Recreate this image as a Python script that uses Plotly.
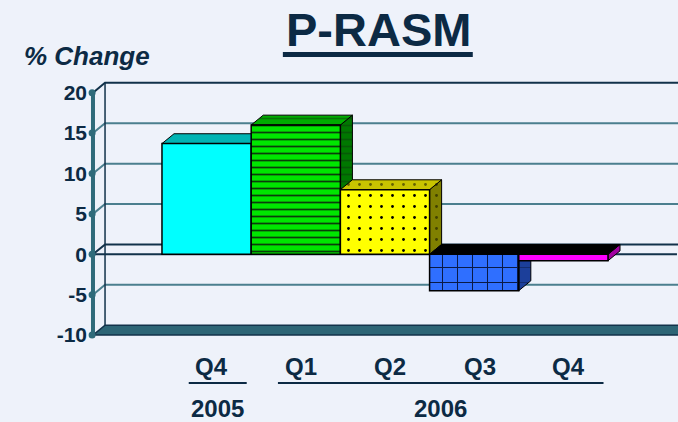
import plotly.graph_objects as go

# ---------------- data ----------------
years = ["2005", "2006", "2006", "2006", "2006"]
quarters = ["Q4", "Q1", "Q2", "Q3", "Q4"]
values = [13.7, 16.0, 8.0, -4.5, -0.8]
y_ticks = [-10, -5, 0, 5, 10, 15, 20]
title_text = "P-RASM"
y_title = "% Change"

# ---------------- style ----------------
BG = "#eef2fa"
TXT = "#0c2a44"
GRID = "#4b7f8e"
DARK = "#12324a"
AXIS = "#2f6b7a"
FLOOR = "#2d6575"
FONT = "Liberation Sans, Arial, sans-serif"

front_colors = ["#00ffff", "#00e600", "#ffff00", "#2f6fff", "#ff00ff"]
top_colors = ["#00b4b4", "#00ad00", "#c8c400", "#000000", "#000000"]
side_colors = ["#007f7f", "#007800", "#808000", "#1c3f9a", "#a000a0"]
pat_shape = ["", "-", ".", "+", ""]
pat_size = [8, 7, 11, 15, 8]
pat_solid = [0.3, 0.25, 0.05, 0.13, 0.3]
pat_fg = ["#000000", "#0b3d0b", "#000000", "#0a1a45", "#000000"]

DX, DY = 0.135, 1.22           # pseudo-3D depth offset (x units, y units)
X_LEFT, X_RIGHT = -1.2735, 5.2735
XR = [-1.307, 5.285]
YR = [-10.235, 21.57]

fig = go.Figure()


def poly(pts, fill, line_color="black", lw=1, pattern=None):
    xs = [p[0] for p in pts] + [pts[0][0]]
    ys = [p[1] for p in pts] + [pts[0][1]]
    kw = {}
    if pattern:
        kw["fillpattern"] = pattern
    fig.add_trace(go.Scatter(x=xs, y=ys, mode="lines", fill="toself", fillcolor=fill,
                             line=dict(color=line_color, width=lw), hoverinfo="skip", **kw))


def line(xs, ys, color, width):
    fig.add_trace(go.Scatter(x=xs, y=ys, mode="lines", line=dict(color=color, width=width),
                             hoverinfo="skip"))


# floor
fmin = y_ticks[0]
poly([(X_LEFT, fmin), (X_LEFT + DX, fmin + DY), (X_RIGHT + DX + 1, fmin + DY), (X_RIGHT + 1, fmin)],
     FLOOR, line_color=DARK, lw=1.5)

# back-wall gridlines with diagonal to the front axis
for v in y_ticks[1:]:
    c = DARK if v in (0, y_ticks[-1]) else GRID
    line([X_LEFT, X_LEFT + DX, X_RIGHT + DX + 1], [v, v + DY, v + DY], c, 2)

# back-wall left edge
line([X_LEFT + DX, X_LEFT + DX], [fmin + DY, y_ticks[-1] + DY], DARK, 1.5)

# front zero line
line([X_LEFT, X_RIGHT], [0, 0], DARK, 2)

# front value axis line + tick dots
line([X_LEFT, X_LEFT], [YR[0], y_ticks[-1] + 0.33], AXIS, 4)
fig.add_trace(go.Scatter(x=[X_LEFT - 0.01] * len(y_ticks), y=y_ticks, mode="markers",
                         marker=dict(color=AXIS, size=7), hoverinfo="skip", cliponaxis=False))

# 3D faces (top + side), painted left to right
for i, v in enumerate(values):
    x0, x1 = i - 0.5, i + 0.5
    if v >= 0:
        side = [(x1, 0), (x1 + DX, DY), (x1 + DX, v + DY), (x1, v)]
        top = [(x0, v), (x0 + DX, v + DY), (x1 + DX, v + DY), (x1, v)]
    else:
        side = [(x1, v), (x1 + DX, v + DY), (x1 + DX, DY), (x1, 0)]
        top = [(x0, 0), (x0 + DX, DY), (x1 + DX, DY), (x1, 0)]
    sp = tp = None
    if pat_shape[i]:
        base = dict(shape=pat_shape[i], size=pat_size[i], solidity=pat_solid[i], fgcolor=pat_fg[i])
        sp = dict(base, bgcolor=side_colors[i])
        if v >= 0:
            tp = dict(base, bgcolor=top_colors[i])
    poly(side, side_colors[i], pattern=sp)
    poly(top, top_colors[i], pattern=tp)

# front faces: real bars on an overlaid subplot (drawn on top of the faces)
for i, v in enumerate(values):
    mk = dict(color=front_colors[i], line=dict(color="black", width=1.5))
    if pat_shape[i]:
        mk["pattern"] = dict(shape=pat_shape[i], size=pat_size[i], solidity=pat_solid[i],
                             fgcolor=pat_fg[i], bgcolor=front_colors[i], fillmode="replace")
    fig.add_trace(go.Bar(x=[i], y=[v], width=1.0, xaxis="x2", yaxis="y2", marker=mk,
                         hoverinfo="skip", name=f"{quarters[i]} {years[i]}"))

# category labels
ann = []
for i, q in enumerate(quarters):
    ann.append(dict(x=i + 0.06, xref="x", y=0, yref="paper", yshift=-29, text=f"<b>{q}</b>",
                    showarrow=False, font=dict(family=FONT, size=24, color=TXT),
                    xanchor="center", yanchor="middle"))

# year groups with underline
shapes = []
groups = []
for i, yv in enumerate(years):
    if groups and groups[-1][0] == yv:
        groups[-1][2] = i
    else:
        groups.append([yv, i, i])
for yv, a, b in groups:
    xa, xb = a - 0.5 + 0.3, b + 0.5 - 0.05
    shapes.append(dict(type="line", xref="x", yref="paper", x0=xa, x1=xb, y0=-0.179, y1=-0.179,
                       line=dict(color=TXT, width=2)))
    ann.append(dict(x=(xa + xb) / 2, xref="x", y=0, yref="paper", yshift=-71, text=f"<b>{yv}</b>",
                    showarrow=False, font=dict(family=FONT, size=24, color=TXT),
                    xanchor="center", yanchor="middle"))

# y-axis title
ann.append(dict(x=-0.1156, xref="paper", xanchor="left", y=1.0934, yref="paper", yanchor="middle",
                text=f"<b><i>{y_title}</i></b>", showarrow=False,
                font=dict(family=FONT, size=26, color=TXT)))

# title + underline
ann.append(dict(x=0.49, xref="paper", xanchor="center", y=1.195, yref="paper", yanchor="middle",
                text=f"<b>{title_text}</b>", showarrow=False,
                font=dict(family=FONT, size=47, color=TXT)))
shapes.append(dict(type="line", xref="paper", yref="paper", x0=0.328, x1=0.651, y0=1.099, y1=1.099,
                   line=dict(color=TXT, width=5)))

fig.update_layout(
    width=678, height=422, margin=dict(l=90, r=0, t=80, b=85),
    paper_bgcolor=BG, plot_bgcolor=BG, showlegend=False,
    xaxis=dict(range=XR, visible=False, fixedrange=True),
    yaxis=dict(range=YR, tickvals=y_ticks, ticktext=[str(t) for t in y_ticks], ticks="",
               showgrid=False, zeroline=False, showline=False, ticklabelstandoff=2,
               tickfont=dict(family=FONT, size=21, color=TXT, weight="bold")),
    xaxis2=dict(range=XR, overlaying="x", anchor="y2", visible=False),
    yaxis2=dict(range=YR, overlaying="y", anchor="x2", visible=False),
    annotations=ann, shapes=shapes,
)

fig.write_html("out.html", config={"displayModeBar": False},
               post_script="document.body.style.margin='0';document.body.style.padding='0';"
                           "document.body.style.background='" + BG + "';")
